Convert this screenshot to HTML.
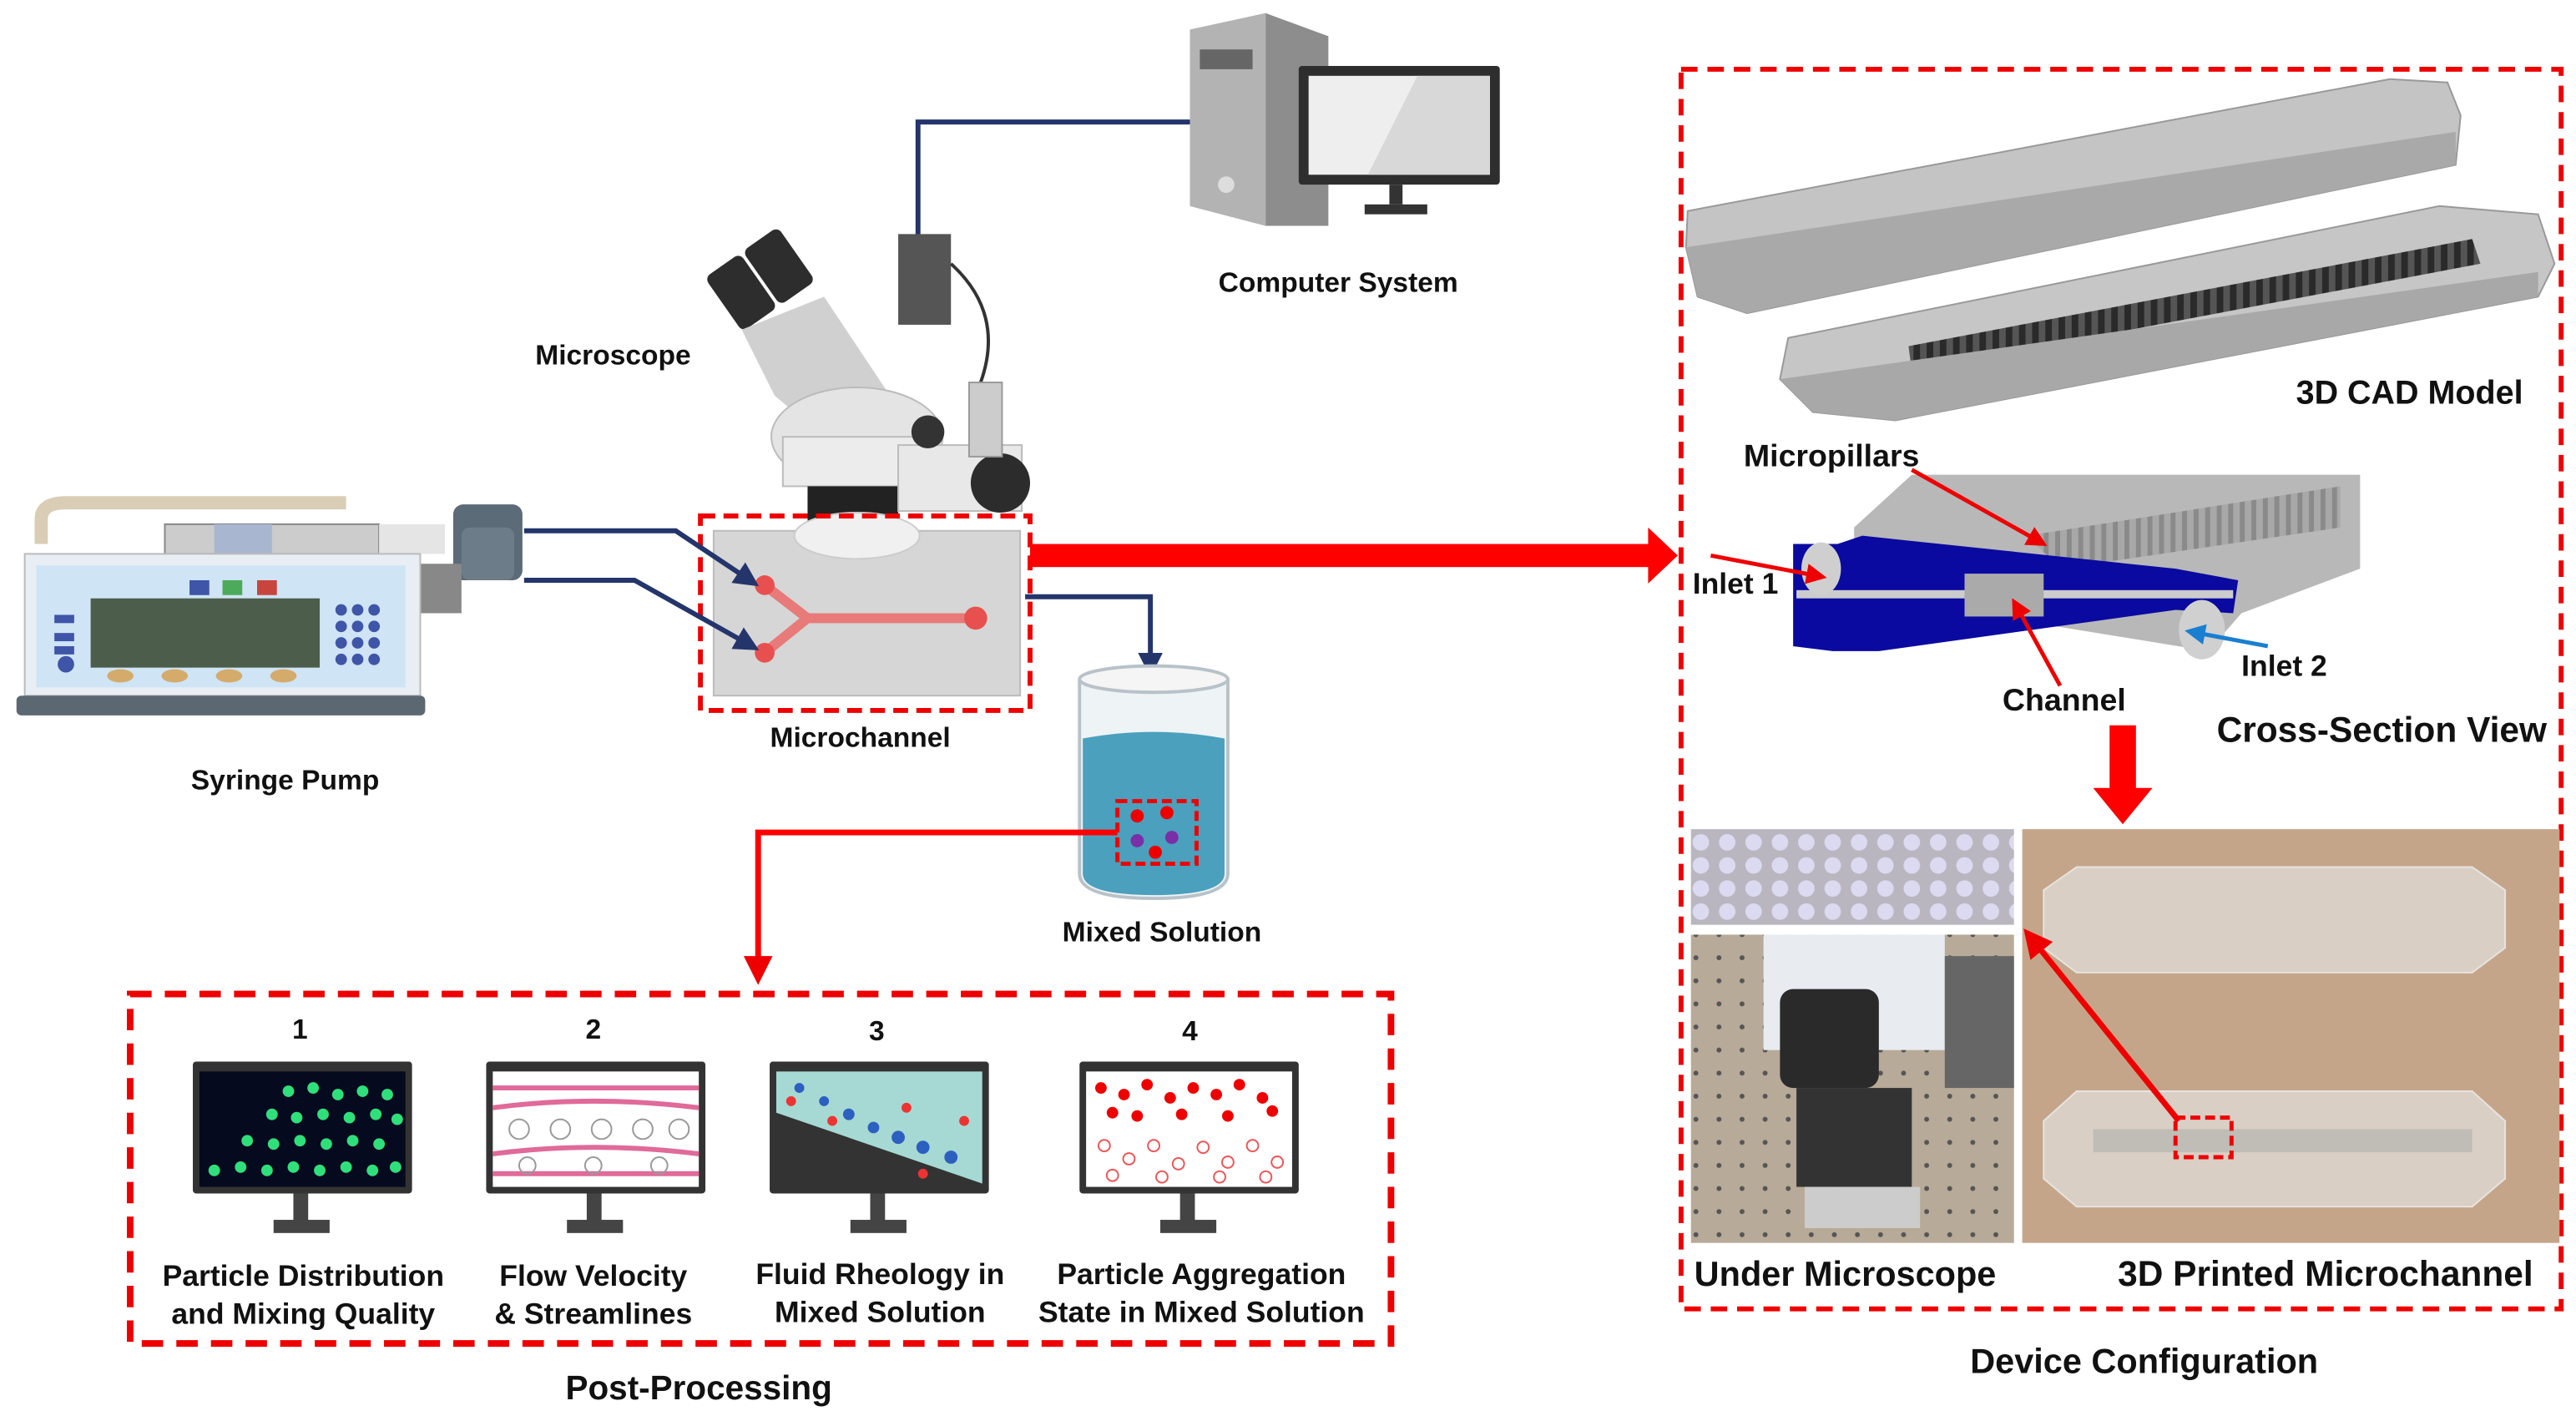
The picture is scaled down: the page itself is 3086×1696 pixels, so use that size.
<!DOCTYPE html>
<html><head><meta charset="utf-8"><style>
html,body{margin:0;padding:0;background:#fff;}
svg{display:block;}
text{font-family:"Liberation Sans",sans-serif;font-weight:bold;fill:#111;}
</style></head><body>
<svg width="3086" height="1696" viewBox="0 0 1563 859" preserveAspectRatio="none" xmlns="http://www.w3.org/2000/svg">
<defs>
<marker id="ab" viewBox="0 0 10 10" refX="8" refY="5" markerWidth="5" markerHeight="5" orient="auto"><path d="M0,0L10,5L0,10z" fill="#24356b"/></marker>
<marker id="ar" viewBox="0 0 10 10" refX="8" refY="5" markerWidth="5" markerHeight="5" orient="auto"><path d="M0,0L10,5L0,10z" fill="#e00"/></marker>
<marker id="abl" viewBox="0 0 10 10" refX="8" refY="5" markerWidth="5" markerHeight="5" orient="auto"><path d="M0,0L10,5L0,10z" fill="#1a7fd0"/></marker>
<pattern id="pil" width="8" height="6" patternUnits="userSpaceOnUse"><rect width="8" height="6" fill="#555"/><rect x="1" y="0" width="4" height="6" fill="#2a2a2a"/></pattern>
<pattern id="pil2" width="7" height="10" patternUnits="userSpaceOnUse"><rect width="7" height="10" fill="#a8a8a8"/><rect x="1" y="0" width="3" height="10" fill="#8a8a8a"/></pattern>
<pattern id="hole" width="16" height="14" patternUnits="userSpaceOnUse"><rect width="16" height="14" fill="#b9b6bf"/><circle cx="8" cy="7" r="5" fill="#dcdaf0"/></pattern>
<pattern id="board" width="14" height="14" patternUnits="userSpaceOnUse"><rect width="14" height="14" fill="#b8aa98"/><circle cx="7" cy="7" r="1.5" fill="#555"/></pattern>
</defs>

<!-- Computer -->
<path d="M557,170 V74 H722" fill="none" stroke="#24356b" stroke-width="3"/>
<polygon points="722,18 768,8 806,22 806,137 768,137 722,125" fill="#8d8d8d"/>
<polygon points="722,18 768,8 768,137 722,125" fill="#b3b3b3"/>
<rect x="728" y="30" width="32" height="12" fill="#666"/>
<circle cx="744" cy="112" r="5" fill="#ddd"/>
<rect x="788" y="40" width="122" height="72" fill="#2e2e2e" rx="2"/>
<rect x="794" y="46" width="110" height="60" fill="#eee"/>
<polygon points="860,46 904,46 904,106 830,106" fill="#d8d8d8"/>
<rect x="843" y="112" width="8" height="12" fill="#333"/>
<rect x="828" y="124" width="38" height="6" fill="#333"/>
<text x="812" y="177" font-size="17" text-anchor="middle">Computer System</text>

<!-- Microscope -->
<rect x="545" y="142" width="32" height="55" fill="#555"/>
<path d="M577,160 Q610,190 595,232" fill="none" stroke="#333" stroke-width="2"/>
<g transform="rotate(-35 460 180)"><rect x="440" y="152" width="26" height="40" fill="#2d2d2d" rx="4"/><rect x="468" y="152" width="26" height="40" fill="#2d2d2d" rx="4"/></g>
<polygon points="450,200 500,180 540,240 500,265 470,240" fill="#d0d0d0"/>
<ellipse cx="520" cy="265" rx="52" ry="30" fill="#e4e4e4" stroke="#bbb"/>
<rect x="475" y="265" width="90" height="30" fill="#ececec" stroke="#bbb"/>
<rect x="490" y="295" width="55" height="22" fill="#222"/>
<rect x="545" y="270" width="75" height="40" fill="#e8e8e8" stroke="#bbb"/>
<circle cx="607" cy="293" r="18" fill="#2c2c2c"/>
<circle cx="563" cy="262" r="10" fill="#333"/>
<rect x="588" y="232" width="20" height="45" fill="#ccc" stroke="#999"/>
<text x="372" y="221" font-size="17" text-anchor="middle">Microscope</text>

<!-- Syringe pump -->
<path d="M25,330 V315 Q25,305 40,305 H210" fill="none" stroke="#d9cdb6" stroke-width="8"/>
<rect x="100" y="318" width="130" height="18" fill="#ccc" stroke="#888"/>
<rect x="130" y="318" width="35" height="18" fill="#a9b6cf"/>
<rect x="230" y="318" width="40" height="18" fill="#e5e5e5"/>
<rect x="275" y="306" width="42" height="46" fill="#5b6b78" rx="6"/>
<rect x="280" y="320" width="32" height="32" fill="#6c7c88" rx="5"/>
<rect x="255" y="342" width="25" height="30" fill="#888"/>
<rect x="15" y="336" width="240" height="86" fill="#e8eef4" stroke="#bbb"/>
<rect x="22" y="343" width="224" height="74" fill="#cfe4f4"/>
<rect x="55" y="363" width="139" height="42" fill="#4c5e4b"/>
<rect x="115" y="352" width="12" height="9" fill="#3e55a8"/><rect x="135" y="352" width="12" height="9" fill="#4caa5b"/><rect x="156" y="352" width="12" height="9" fill="#c8453e"/>
<g fill="#3e55a8"><circle cx="207" cy="370" r="3.5"/><circle cx="217" cy="370" r="3.5"/><circle cx="227" cy="370" r="3.5"/><circle cx="207" cy="380" r="3.5"/><circle cx="217" cy="380" r="3.5"/><circle cx="227" cy="380" r="3.5"/><circle cx="207" cy="390" r="3.5"/><circle cx="217" cy="390" r="3.5"/><circle cx="227" cy="390" r="3.5"/><circle cx="207" cy="400" r="3.5"/><circle cx="217" cy="400" r="3.5"/><circle cx="227" cy="400" r="3.5"/>
<rect x="33" y="373" width="12" height="5"/><rect x="33" y="384" width="12" height="5"/><rect x="33" y="392" width="12" height="5"/><circle cx="40" cy="403" r="5"/></g>
<g fill="#d4ab6b"><ellipse cx="73" cy="410" rx="8" ry="4"/><ellipse cx="106" cy="410" rx="8" ry="4"/><ellipse cx="139" cy="410" rx="8" ry="4"/><ellipse cx="172" cy="410" rx="8" ry="4"/></g>
<rect x="10" y="422" width="248" height="12" fill="#5b6871" rx="3"/>
<text x="173" y="479" font-size="17" text-anchor="middle">Syringe Pump</text>

<!-- Microchannel -->
<rect x="433" y="322" width="186" height="100" fill="#d6d6d6" stroke="#bbb"/>
<ellipse cx="520" cy="325" rx="38" ry="14" fill="#f0f0f0" stroke="#ccc"/>
<path d="M464,355 L490,375 H592 M464,396 L490,375" fill="none" stroke="#e87a7a" stroke-width="6"/>
<circle cx="464" cy="355" r="6" fill="#e85050"/><circle cx="464" cy="396" r="6" fill="#e85050"/><circle cx="592" cy="375" r="7" fill="#e85050"/>
<rect x="425" y="313" width="200" height="118" fill="none" stroke="#e00" stroke-width="3" stroke-dasharray="9,5"/>
<path d="M318,322 H410 L458,354" fill="none" stroke="#24356b" stroke-width="3" marker-end="url(#ab)"/>
<path d="M318,352 H385 L458,393" fill="none" stroke="#24356b" stroke-width="3" marker-end="url(#ab)"/>
<path d="M622,362 H698 V408" fill="none" stroke="#24356b" stroke-width="3" marker-end="url(#ab)"/>
<text x="522" y="453" font-size="17" text-anchor="middle">Microchannel</text>

<!-- Big red arrow -->
<rect x="625" y="330" width="378" height="14" fill="#f00"/>
<polygon points="1000,320 1018,337 1000,354" fill="#f00"/>

<!-- Beaker -->
<path d="M655,412 V530 Q655,545 700,545 Q745,545 745,530 V412" fill="#eef3f6" stroke="#b8c2c8" stroke-width="2"/>
<ellipse cx="700" cy="412" rx="45" ry="8" fill="#f5f5f5" stroke="#b8c2c8" stroke-width="2"/>
<path d="M657,448 Q700,440 743,448 V530 Q743,543 700,543 Q657,543 657,530 Z" fill="#4ba0bd"/>
<rect x="678" y="486" width="48" height="38" fill="none" stroke="#e00" stroke-width="2.5" stroke-dasharray="6,3"/>
<circle cx="690" cy="495" r="4" fill="#e00"/><circle cx="708" cy="493" r="4" fill="#e00"/><circle cx="690" cy="510" r="4" fill="#7a2fa8"/><circle cx="711" cy="508" r="4" fill="#7a2fa8"/><circle cx="701" cy="517" r="4" fill="#e00"/>
<text x="705" y="571" font-size="17" text-anchor="middle">Mixed Solution</text>
<path d="M678,505 H460 V594" fill="none" stroke="#f00" stroke-width="3.5" marker-end="url(#ar)"/>

<!-- Post-processing box -->
<rect x="79" y="603" width="765" height="212" fill="none" stroke="#e00" stroke-width="4" stroke-dasharray="13,8"/>
<g font-size="17" text-anchor="middle">
<text x="182" y="630">1</text><text x="360" y="630">2</text><text x="532" y="631">3</text><text x="722" y="631">4</text>
</g>
<g>
<rect x="117" y="644" width="133" height="80" fill="#333" rx="2"/>
<rect x="121" y="650" width="125" height="70" fill="#050a1f"/>
<g fill="#2fe07a">
<circle cx="175" cy="662" r="3.5"/><circle cx="190" cy="660" r="3.5"/><circle cx="205" cy="664" r="3.5"/><circle cx="220" cy="662" r="3.5"/><circle cx="235" cy="664" r="3.5"/>
<circle cx="165" cy="676" r="3.5"/><circle cx="180" cy="678" r="3.5"/><circle cx="196" cy="676" r="3.5"/><circle cx="212" cy="678" r="3.5"/><circle cx="228" cy="676" r="3.5"/><circle cx="241" cy="679" r="3.5"/>
<circle cx="150" cy="692" r="3.5"/><circle cx="166" cy="694" r="3.5"/><circle cx="182" cy="692" r="3.5"/><circle cx="198" cy="694" r="3.5"/><circle cx="214" cy="692" r="3.5"/><circle cx="230" cy="694" r="3.5"/>
<circle cx="130" cy="710" r="3.5"/><circle cx="146" cy="708" r="3.5"/><circle cx="162" cy="710" r="3.5"/><circle cx="178" cy="708" r="3.5"/><circle cx="194" cy="710" r="3.5"/><circle cx="210" cy="708" r="3.5"/><circle cx="226" cy="710" r="3.5"/><circle cx="240" cy="708" r="3.5"/></g>
<rect x="178" y="724" width="9" height="20" fill="#444"/><rect x="166" y="740" width="34" height="8" fill="#444"/>
</g>
<g>
<rect x="295" y="644" width="133" height="80" fill="#333" rx="2"/>
<rect x="299" y="650" width="125" height="70" fill="#fff"/>
<path d="M299,672 Q360,664 424,672 M299,700 Q360,692 424,700 M299,660 H424 M299,712 H424" stroke="#e06a9a" stroke-width="3" fill="none"/>
<g fill="none" stroke="#999"><circle cx="315" cy="685" r="6"/><circle cx="340" cy="685" r="6"/><circle cx="365" cy="685" r="6"/><circle cx="390" cy="685" r="6"/><circle cx="412" cy="685" r="6"/><circle cx="320" cy="707" r="5"/><circle cx="360" cy="707" r="5"/><circle cx="400" cy="707" r="5"/></g>
<rect x="356" y="724" width="9" height="20" fill="#444"/><rect x="344" y="740" width="34" height="8" fill="#444"/>
</g>
<g>
<rect x="467" y="644" width="133" height="80" fill="#333" rx="2"/>
<rect x="471" y="650" width="125" height="70" fill="#333"/>
<polygon points="471,650 596,650 596,718 471,675" fill="#a6d9d3"/>
<g fill="#2b5fc0"><circle cx="485" cy="660" r="3"/><circle cx="500" cy="668" r="3"/><circle cx="515" cy="676" r="3.5"/><circle cx="530" cy="684" r="3.5"/><circle cx="545" cy="690" r="4"/><circle cx="560" cy="696" r="4"/><circle cx="577" cy="702" r="4"/></g>
<g fill="#e33"><circle cx="480" cy="668" r="3"/><circle cx="505" cy="680" r="3"/><circle cx="550" cy="672" r="3"/><circle cx="585" cy="680" r="3"/><circle cx="560" cy="712" r="3"/></g>
<rect x="528" y="724" width="9" height="20" fill="#444"/><rect x="516" y="740" width="34" height="8" fill="#444"/>
</g>
<g>
<rect x="655" y="644" width="133" height="80" fill="#333" rx="2"/>
<rect x="659" y="650" width="125" height="70" fill="#fff"/>
<g fill="#e00"><circle cx="668" cy="660" r="3.5"/><circle cx="682" cy="664" r="3.5"/><circle cx="696" cy="658" r="3.5"/><circle cx="710" cy="666" r="3.5"/><circle cx="724" cy="660" r="3.5"/><circle cx="738" cy="664" r="3.5"/><circle cx="752" cy="658" r="3.5"/><circle cx="766" cy="666" r="3.5"/><circle cx="675" cy="675" r="3.5"/><circle cx="690" cy="677" r="3.5"/><circle cx="717" cy="676" r="3.5"/><circle cx="745" cy="677" r="3.5"/><circle cx="772" cy="674" r="3.5"/></g>
<g fill="none" stroke="#e55"><circle cx="670" cy="695" r="3.5"/><circle cx="685" cy="703" r="3.5"/><circle cx="700" cy="695" r="3.5"/><circle cx="715" cy="706" r="3.5"/><circle cx="730" cy="696" r="3.5"/><circle cx="745" cy="705" r="3.5"/><circle cx="760" cy="695" r="3.5"/><circle cx="775" cy="705" r="3.5"/><circle cx="675" cy="713" r="3.5"/><circle cx="705" cy="714" r="3.5"/><circle cx="740" cy="714" r="3.5"/><circle cx="768" cy="714" r="3.5"/></g>
<rect x="716" y="724" width="9" height="20" fill="#444"/><rect x="704" y="740" width="34" height="8" fill="#444"/>
</g>
<g font-size="18" text-anchor="middle">
<text x="184" y="780">Particle Distribution</text><text x="184" y="803">and Mixing Quality</text>
<text x="360" y="780">Flow Velocity</text><text x="360" y="803">&amp; Streamlines</text>
<text x="534" y="779">Fluid Rheology in</text><text x="534" y="802">Mixed Solution</text>
<text x="729" y="779">Particle Aggregation</text><text x="729" y="802">State in Mixed Solution</text>
</g>
<text x="424" y="849" font-size="20.5" text-anchor="middle">Post-Processing</text>

<!-- Device configuration -->
<rect x="1020" y="42" width="534" height="752" fill="none" stroke="#e00" stroke-width="3" stroke-dasharray="10,6"/>
<!-- CAD lid -->
<polygon points="1024,128 1450,48 1485,50 1493,70 1490,100 1060,190 1030,180 1023,150" fill="#c4c4c4" stroke="#999"/>
<polygon points="1023,150 1490,80 1490,100 1060,190 1030,180" fill="#a9a9a9"/>
<!-- CAD base -->
<polygon points="1085,205 1480,125 1540,130 1550,160 1540,180 1150,255 1100,250 1080,230" fill="#c6c6c6" stroke="#999"/>
<polygon points="1158,210 1500,145 1505,160 1160,225" fill="url(#pil)"/>
<polygon points="1080,230 1540,165 1540,180 1150,255 1100,250" fill="#a8a8a8"/>
<text x="1462" y="245" font-size="20" text-anchor="middle">3D CAD Model</text>
<!-- cross section -->
<polygon points="1125,320 1160,288 1432,288 1432,345 1360,372 1340,395 1125,360" fill="#b8b8b8"/>
<polygon points="1230,325 1420,295 1420,320 1250,345" fill="url(#pil2)"/>
<polygon points="1088,330 1115,330 1130,325 1320,345 1358,352 1355,372 1320,370 1140,395 1112,395 1088,392" fill="#0a0aa0"/>
<rect x="1090" y="358" width="265" height="5" fill="#ccc"/>
<rect x="1192" y="348" width="48" height="26" fill="#aaa"/>
<ellipse cx="1105" cy="345" rx="12" ry="16" fill="#cfcfcf"/>
<ellipse cx="1336" cy="382" rx="14" ry="18" fill="#d0d0d0"/>
<path d="M1038,337 L1106,350" stroke="#e00" stroke-width="2.5" marker-end="url(#ar)"/>
<path d="M1160,285 L1240,330" stroke="#e00" stroke-width="2.5" marker-end="url(#ar)"/>
<path d="M1250,416 L1222,365" stroke="#e00" stroke-width="2.5" marker-end="url(#ar)"/>
<path d="M1376,392 L1328,383" stroke="#1a7fd0" stroke-width="2.5" marker-end="url(#abl)"/>
<text x="1058" y="283" font-size="19">Micropillars</text>
<text x="1027" y="360" font-size="18">Inlet 1</text>
<text x="1360" y="410" font-size="18">Inlet 2</text>
<text x="1215" y="431" font-size="19">Channel</text>
<text x="1345" y="450" font-size="21.5">Cross-Section View</text>
<!-- red down arrow -->
<rect x="1280" y="440" width="16" height="40" fill="#f00"/>
<polygon points="1270,478 1306,478 1288,500" fill="#f00"/>
<!-- photos -->
<rect x="1026" y="503" width="196" height="58" fill="url(#hole)"/>
<rect x="1026" y="567" width="196" height="187" fill="url(#board)"/>
<rect x="1070" y="567" width="110" height="70" fill="#e8ecf1"/>
<rect x="1080" y="600" width="60" height="60" fill="#2a2a2a" rx="8"/>
<rect x="1090" y="660" width="70" height="60" fill="#333"/>
<rect x="1095" y="720" width="70" height="25" fill="#ccc"/>
<rect x="1180" y="580" width="42" height="80" fill="#666"/>
<rect x="1227" y="503" width="326" height="251" fill="#c5a58a"/>
<polygon points="1240,540 1260,526 1500,526 1520,540 1520,575 1500,590 1260,590 1240,575" fill="#ddd7d0" stroke="#eee" opacity=".85"/>
<polygon points="1240,680 1260,662 1500,662 1520,680 1520,715 1500,732 1260,732 1240,715" fill="#ddd7d0" stroke="#eee" opacity=".85"/>
<rect x="1270" y="685" width="230" height="14" fill="#c0bcb6"/>
<rect x="1320" y="678" width="34" height="24" fill="none" stroke="#e00" stroke-width="2.5" stroke-dasharray="6,3"/>
<path d="M1322,680 L1230,566" stroke="#e00" stroke-width="3.5" marker-end="url(#ar)"/>
<text x="1028" y="780" font-size="21">Under Microscope</text>
<text x="1285" y="780" font-size="21.5">3D Printed Microchannel</text>
<text x="1301" y="833" font-size="21" text-anchor="middle">Device Configuration</text>
</svg>
</body></html>
